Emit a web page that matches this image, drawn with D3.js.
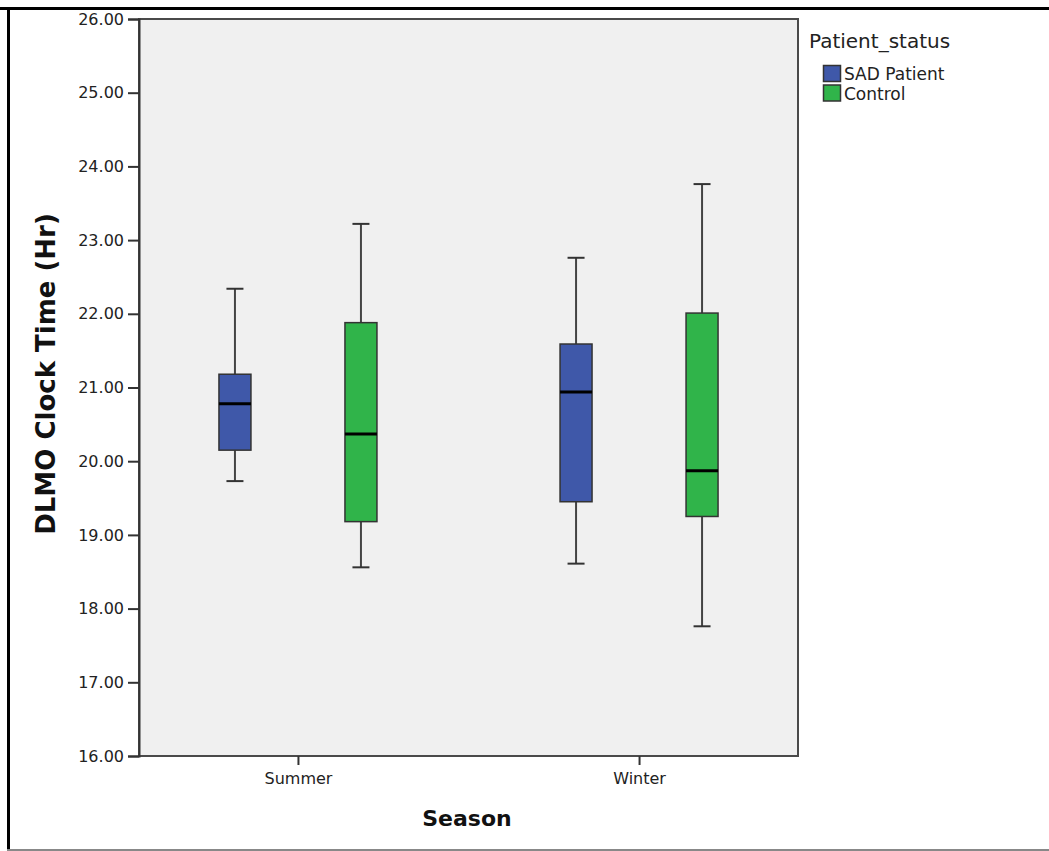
<!DOCTYPE html>
<html><head><meta charset="utf-8">
<script src="https://cdn.jsdelivr.net/npm/d3@7"></script>
<style>body{margin:0;background:#fff}svg{display:block}</style>
</head><body>
<script>
const seasons = ["Summer", "Winter"];
const groups = ["SAD Patient", "Control"];
const groupColors = ["#3f58a9", "#30b44a"];
// [whiskerLow, q1, median, q3, whiskerHigh]
const summerSAD = [19.73, 20.15, 20.78, 21.18, 22.34];
const summerControl = [18.56, 19.18, 20.37, 21.88, 23.22];
const winterSAD = [18.61, 19.45, 20.94, 21.59, 22.76];
const winterControl = [17.76, 19.25, 19.87, 22.01, 23.76];
const yTicks = [16, 17, 18, 19, 20, 21, 22, 23, 24, 25, 26];
const boxes = [
  {season: "Summer", group: "SAD Patient", v: summerSAD},
  {season: "Summer", group: "Control", v: summerControl},
  {season: "Winter", group: "SAD Patient", v: winterSAD},
  {season: "Winter", group: "Control", v: winterControl}
];

const W = 1049, H = 851;
const svg = d3.select("body").append("svg").attr("width", W).attr("height", H);
const L = 139, R = 798, T = 19, B = 756;

// page frame
svg.append("line").attr("x1", 0).attr("x2", W).attr("y1", 8.5).attr("y2", 8.5).attr("stroke", "#000").attr("stroke-width", 3);
svg.append("line").attr("x1", 8.5).attr("x2", 8.5).attr("y1", 7).attr("y2", H).attr("stroke", "#000").attr("stroke-width", 3);
svg.append("line").attr("x1", 7).attr("x2", W).attr("y1", 850).attr("y2", 850).attr("stroke", "#888").attr("stroke-width", 2);

const y = d3.scaleLinear().domain([16, 26]).range([B, T]);
const x = d3.scalePoint().domain(seasons).range([L, R]).padding(0.466);
const off = d3.scalePoint().domain(groups).range([-63, 63]);
const bw = 32, capW = 17;

svg.append("rect").attr("x", L).attr("y", T).attr("width", R - L).attr("height", B - T)
  .attr("fill", "#f0f0f0").attr("stroke", "#4a4a4a").attr("stroke-width", 2);

// axes
const yAxis = svg.append("g").attr("transform", `translate(${L},0)`)
  .call(d3.axisLeft(y).tickValues(yTicks).tickFormat(d3.format(".2f")).tickSize(11).tickPadding(4));
yAxis.select(".domain").attr("stroke", "#333").attr("stroke-width", 2);
yAxis.selectAll(".tick line").attr("stroke", "#333").attr("stroke-width", 2);
yAxis.selectAll("text").attr("font-family", "DejaVu Sans").attr("font-size", 16).attr("fill", "#222");

const xAxis = svg.append("g").attr("transform", `translate(0,${B})`)
  .call(d3.axisBottom(x).tickSize(9).tickPadding(8));
xAxis.select(".domain").remove();
xAxis.selectAll(".tick line").attr("stroke", "#333").attr("stroke-width", 2);
xAxis.selectAll("text").attr("font-family", "DejaVu Sans").attr("font-size", 16).attr("fill", "#222");

// boxes
const g = svg.append("g");
boxes.forEach(b => {
  const cx = x(b.season) + off(b.group);
  const col = groupColors[groups.indexOf(b.group)];
  const [lo, q1, med, q3, hi] = b.v;
  g.append("line").attr("x1", cx).attr("x2", cx).attr("y1", y(hi)).attr("y2", y(q3)).attr("stroke", "#444").attr("stroke-width", 2);
  g.append("line").attr("x1", cx).attr("x2", cx).attr("y1", y(q1)).attr("y2", y(lo)).attr("stroke", "#444").attr("stroke-width", 2);
  g.append("line").attr("x1", cx - capW / 2).attr("x2", cx + capW / 2).attr("y1", y(hi)).attr("y2", y(hi)).attr("stroke", "#333").attr("stroke-width", 2);
  g.append("line").attr("x1", cx - capW / 2).attr("x2", cx + capW / 2).attr("y1", y(lo)).attr("y2", y(lo)).attr("stroke", "#333").attr("stroke-width", 2);
  g.append("rect").attr("x", cx - bw / 2).attr("y", y(q3)).attr("width", bw).attr("height", y(q1) - y(q3))
    .attr("fill", col).attr("stroke", "#333").attr("stroke-width", 1.5);
  g.append("line").attr("x1", cx - bw / 2).attr("x2", cx + bw / 2).attr("y1", y(med)).attr("y2", y(med)).attr("stroke", "#000").attr("stroke-width", 3);
});

// titles
svg.append("text").attr("transform", `translate(55,374) rotate(-90)`)
  .attr("text-anchor", "middle").attr("font-family", "DejaVu Sans").attr("font-weight", "bold")
  .attr("font-size", 26).attr("fill", "#111").text("DLMO Clock Time (Hr)");
svg.append("text").attr("x", 467).attr("y", 826).attr("text-anchor", "middle")
  .attr("font-family", "DejaVu Sans").attr("font-weight", "bold").attr("font-size", 22).attr("fill", "#111").text("Season");

// legend
svg.append("text").attr("x", 809).attr("y", 48).attr("font-family", "DejaVu Sans").attr("font-size", 20).attr("fill", "#222").text("Patient_status");
const lg = svg.append("g");
groups.forEach((gname, i) => {
  lg.append("rect").attr("x", 823.5).attr("y", 65.5 + i * 19.5).attr("width", 17).attr("height", 16)
    .attr("fill", groupColors[i]).attr("stroke", "#333").attr("stroke-width", 1.5);
  lg.append("text").attr("x", 844).attr("y", 80 + i * 20).attr("font-family", "DejaVu Sans").attr("font-size", 17).attr("fill", "#222").text(gname);
});
</script>
</body></html>
